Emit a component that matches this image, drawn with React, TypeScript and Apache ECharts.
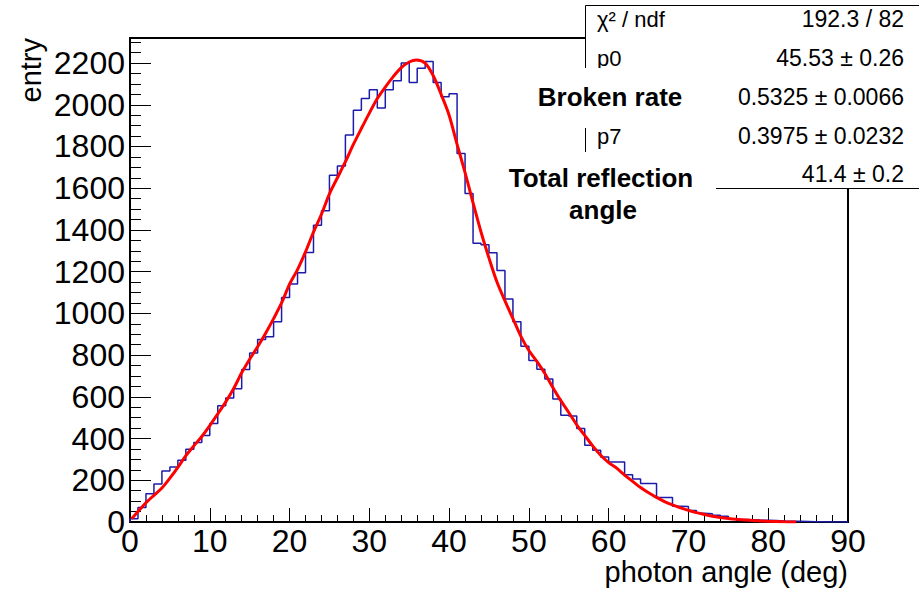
import React, { useEffect, useRef } from "react";
import * as echarts from "echarts";

// Histogram: 90 bins of 1 degree, from 0 to 90 deg
const binLow = 0;
const binWidth = 1;
const counts = [
  15, 70, 136, 182, 245, 264, 296, 349, 381, 415,
  472, 557, 594, 639, 731, 810, 875, 888, 960, 1076,
  1141, 1195, 1292, 1423, 1492, 1662, 1706, 1855, 1974, 2030,
  2072, 1985, 2072, 2115, 2200, 2107, 2175, 2207, 2107, 2038,
  2053, 1766, 1575, 1336, 1329, 1291, 1206, 1069, 960, 843,
  774, 732, 685, 590, 512, 508, 448, 368, 344, 312,
  288, 288, 226, 206, 184, 184, 118, 118, 76, 74,
  55, 42, 40, 32, 27, 16, 12, 11, 9, 8,
  7, 5, 4, 3, 2, 1, 1, 0, 0, 0,
];

// Fit curve
const fitX = [
  0.2, 1, 2, 3, 4, 5, 6, 7, 8, 9, 10, 11, 12, 13, 14, 15, 16, 17, 18, 19,
  20, 21, 22, 23, 24, 25, 26, 27, 28, 29, 30, 31, 32, 33, 34, 35, 35.9, 37,
  38, 39, 40, 41, 42, 43, 44, 45, 46, 47, 48, 49, 50, 51, 52, 53, 54, 55,
  56, 57, 58, 59, 60, 61, 62, 63, 64, 65, 66, 67, 68, 69, 70, 71, 72, 73,
  74, 75, 76, 77, 78, 79, 80, 81, 82, 83.5,
];
const fitY = [
  16, 50, 92, 128, 163, 210, 262, 318, 365, 410, 462, 518, 576, 640, 715, 780, 840, 905, 975, 1050,
  1140, 1210, 1295, 1390, 1475, 1573, 1650, 1727, 1810, 1886, 1960, 2030, 2085, 2135, 2178, 2205, 2215, 2200,
  2140, 2050, 1950, 1810, 1675, 1530, 1390, 1265, 1150, 1060, 975, 890, 822, 770, 712, 645, 582, 525,
  466, 415, 365, 320, 285, 258, 225, 195, 165, 140, 118, 98, 82, 68, 56, 45, 36, 28,
  22, 17, 13, 10, 7, 5, 3, 2, 1, 0,
];

const xMin = 0;
const xMax = 90;
const xInterval = 10;
const yMin = 0;
const yMax = 2320;
const yInterval = 200;

const xTitle = "photon angle (deg)";
const yTitle = "entry";

const statLabels = ["χ² / ndf", "p0", "", "p7", ""];
const statValues = ["192.3 / 82", "45.53 ± 0.26", "0.5325 ± 0.0066", "0.3975 ± 0.0232", "41.4 ± 0.2"];
const noteBroken = "Broken rate";
const noteTotal = ["Total reflection", "angle"];

const FONT = "'Liberation Sans', Arial, Helvetica, sans-serif";

export default function App() {
  const ref = useRef<HTMLDivElement>(null);

  useEffect(() => {
    if (!ref.current) return;
    const chart = echarts.init(ref.current, undefined, { renderer: "svg" });

    const histData: number[][] = [];
    histData.push([binLow, 0]);
    counts.forEach((c, i) => {
      const lo = binLow + i * binWidth;
      histData.push([lo, c]);
      histData.push([lo + binWidth, c]);
    });
    histData.push([binLow + counts.length * binWidth, 0]);

    const fitData = fitX.map((x, i) => [x, fitY[i]]);

    const rowY = [19, 58, 97, 136, 174];
    const graphics: any[] = [
      {
        type: "rect",
        z: 100,
        shape: { x: 585.5, y: 5.5, width: 340, height: 183 },
        style: { fill: "#fff", stroke: "#000", lineWidth: 1 },
      },
    ];
    statLabels.forEach((t, i) => {
      if (t)
        graphics.push({
          type: "text",
          z: 101,
          x: 597,
          y: rowY[i],
          style: { text: t, fill: "#000", fontSize: 22, fontFamily: FONT, align: "left", verticalAlign: "middle" },
        });
      graphics.push({
        type: "text",
        z: 101,
        x: 904,
        y: rowY[i],
        style: { text: statValues[i], fill: "#000", fontSize: 23, fontFamily: FONT, align: "right", verticalAlign: "middle" },
      });
    });
    graphics.push(
      { type: "rect", z: 102, shape: { x: 528, y: 68, width: 178, height: 60 }, style: { fill: "#fff" } },
      {
        type: "text",
        z: 103,
        x: 610,
        y: 97,
        style: { text: noteBroken, fill: "#000", fontSize: 26, fontWeight: "bold", fontFamily: FONT, align: "center", verticalAlign: "middle" },
      },
      { type: "rect", z: 102, shape: { x: 498, y: 152, width: 218, height: 80 }, style: { fill: "#fff" } },
      {
        type: "text",
        z: 103,
        x: 601,
        y: 178,
        style: { text: noteTotal[0], fill: "#000", fontSize: 26, fontWeight: "bold", fontFamily: FONT, align: "center", verticalAlign: "middle" },
      },
      {
        type: "text",
        z: 103,
        x: 603,
        y: 210,
        style: { text: noteTotal[1], fill: "#000", fontSize: 26, fontWeight: "bold", fontFamily: FONT, align: "center", verticalAlign: "middle" },
      },
      {
        type: "text",
        z: 50,
        x: 848,
        y: 572,
        style: { text: xTitle, fill: "#000", fontSize: 29, fontFamily: FONT, align: "right", verticalAlign: "middle" },
      },
      {
        type: "text",
        z: 50,
        x: 31,
        y: 38,
        rotation: Math.PI / 2,
        style: { text: yTitle, fill: "#000", fontSize: 29, fontFamily: FONT, align: "right", verticalAlign: "middle" },
      }
    );

    chart.setOption({
      animation: false,
      backgroundColor: "#fff",
      grid: {
        left: 130,
        right: 71,
        top: 38,
        bottom: 68,
        show: true,
        borderColor: "#000",
        borderWidth: 2,
        backgroundColor: "transparent",
        outerBoundsMode: "none",
      },
      xAxis: {
        type: "value",
        min: xMin,
        max: xMax,
        interval: xInterval,
        axisLine: { show: true, onZero: false, lineStyle: { color: "#000", width: 2 } },
        axisTick: { show: true, inside: true, length: 14, lineStyle: { color: "#000", width: 1 } },
        minorTick: { show: true, splitNumber: 5, length: 7, lineStyle: { color: "#000", width: 1 } },
        axisLabel: { color: "#000", fontSize: 32, fontFamily: FONT, margin: 3, formatter: (v: number) => String(v) },
        splitLine: { show: false },
      },
      yAxis: {
        type: "value",
        min: yMin,
        max: yMax,
        interval: yInterval,
        axisLine: { show: true, onZero: false, lineStyle: { color: "#000", width: 2 } },
        axisTick: { show: true, inside: true, length: 21, lineStyle: { color: "#000", width: 1 } },
        minorTick: { show: true, splitNumber: 4, length: 11, lineStyle: { color: "#000", width: 1 } },
        axisLabel: { color: "#000", fontSize: 32, fontFamily: FONT, margin: 5, showMaxLabel: false, formatter: (v: number) => String(v) },
        splitLine: { show: false },
      },
      graphic: graphics,
      series: [
        {
          type: "line",
          data: histData,
          symbol: "none",
          lineStyle: { color: "#1c1caa", width: 1.5 },
          z: 3,
        },
        {
          type: "line",
          data: fitData,
          symbol: "none",
          smooth: 0.3,
          lineStyle: { color: "#ff0000", width: 3 },
          z: 4,
        },
      ],
    });

    return () => chart.dispose();
  }, []);

  return <div ref={ref} style={{ position: "fixed", left: 0, top: 0, width: 919, height: 590 }} />;
}
